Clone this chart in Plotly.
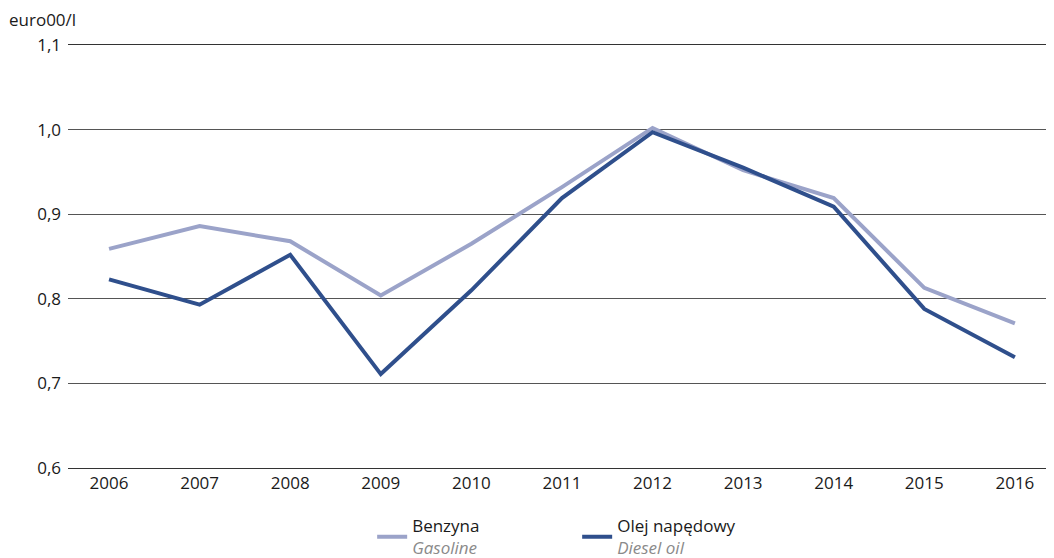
import plotly.graph_objects as go

years = ["2006", "2007", "2008", "2009", "2010", "2011", "2012", "2013", "2014", "2015", "2016"]
benzyna = [0.859, 0.886, 0.868, 0.804, 0.865, 0.932, 1.002, 0.952, 0.919, 0.813, 0.771]
olej = [0.823, 0.793, 0.852, 0.711, 0.810, 0.919, 0.997, 0.955, 0.909, 0.788, 0.731]
y_ticks = [0.6, 0.7, 0.8, 0.9, 1.0, 1.1]

font = "Open Sans, Noto Sans, sans-serif"

fig = go.Figure()
fig.add_trace(go.Scatter(
    x=years, y=benzyna, mode="lines",
    name="Benzyna<br><span style='color:#8a8a8a'><i>Gasoline</i></span>",
    line=dict(color="#9ba3c9", width=4),
))
fig.add_trace(go.Scatter(
    x=years, y=olej, mode="lines",
    name="Olej napędowy<br><span style='color:#8a8a8a'><i>Diesel oil</i></span>",
    line=dict(color="#2f4f8c", width=4),
))

# page body has an 8px margin, so the margins below compensate for it
fig.update_layout(
    width=1054, height=558,
    margin=dict(l=60, r=0, t=37, b=98, autoexpand=False),
    paper_bgcolor="white", plot_bgcolor="white",
    separators=", ",
    font=dict(family=font, size=17, color="#1a1a1a"),
    showlegend=True,
    legend=dict(
        orientation="h", x=0.306, xanchor="left", y=-0.095, yanchor="top",
        font=dict(size=17, color="#1a1a1a"), entrywidth=160,
    ),
    xaxis=dict(
        type="category", range=[-0.453, 10.52],
        showgrid=False, showline=True, mirror=True, linecolor="#333", linewidth=1,
        ticks="", tickfont=dict(size=17),
    ),
    yaxis=dict(
        range=[0.6, 1.1], tickvals=y_ticks, tickformat=".1f",
        showgrid=True, gridcolor="#555", gridwidth=1,
        zeroline=False, ticks="", ticklabelstandoff=6,
        tickfont=dict(size=17),
    ),
    annotations=[dict(
        text="euro00/l", xref="paper", yref="paper",
        x=-0.061, y=1, xanchor="left", yanchor="bottom", yshift=12,
        showarrow=False, font=dict(size=17, color="#1a1a1a"),
    )],
)

fig.write_html("out.html")
